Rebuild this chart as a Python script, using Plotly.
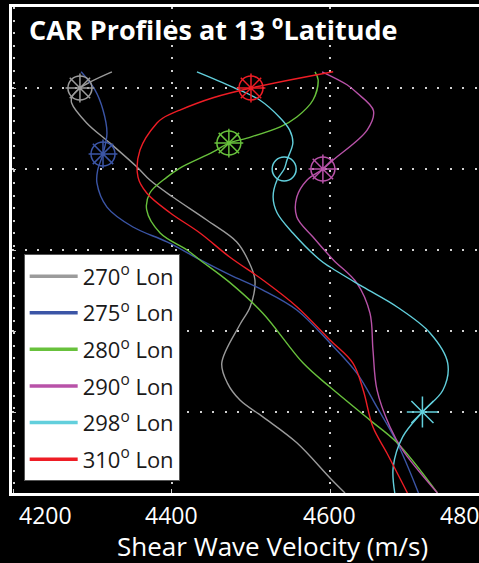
import plotly.graph_objects as go

# Depth samples (km) and shear-wave velocity (m/s) for each longitude profile
DEPTH_270 = [40, 50, 55.6, 59.3, 71.6, 84, 98.8, 106.8, 117.3, 131.5, 145, 156, 168.5, 185, 196, 219.8, 232, 242.6, 253, 269, 290.7, 300]
VEL_270 = [4324, 4283.5, 4273.4, 4273, 4292, 4321.5, 4355.7, 4372, 4401, 4444, 4482, 4496, 4505, 4499, 4486, 4463, 4470, 4486, 4515, 4558, 4600, 4619]

DEPTH_275 = [40, 51.2, 63.6, 77.8, 90.7, 100.6, 108.6, 123.5, 135.8, 145, 156, 165.4, 174.7, 187, 207.4, 226, 247, 269, 300]
VEL_275 = [4285, 4302.5, 4312.7, 4317.7, 4312.7, 4306, 4305, 4317.7, 4350.6, 4393.7, 4435.4, 4473.4, 4515, 4558, 4600, 4634, 4659.5, 4685, 4712]

DEPTH_280 = [40, 45, 57.4, 67.9, 74, 80.9, 84, 89.5, 99.4, 105, 114.8, 125.3, 139.5, 150, 156, 170, 189, 219.8, 234.6, 255, 269, 300]
VEL_280 = [4581, 4585, 4578.5, 4558, 4537, 4495, 4472, 4452, 4410, 4393.7, 4372, 4368, 4385, 4419, 4435, 4473, 4515, 4566, 4600, 4650.6, 4685, 4736]

DEPTH_290 = [40, 48, 53, 64, 76, 94.4, 100, 106.8, 117.3, 129.6, 142, 156, 170.4, 189, 211.7, 236.4, 259.3, 273.5, 300]
VEL_290 = [4590, 4621.5, 4634, 4655, 4647, 4604, 4591, 4571, 4558, 4558, 4578.5, 4604, 4634, 4650.6, 4654.4, 4659.5, 4676, 4692, 4736]

DEPTH_298 = [40, 49.4, 57.4, 68.5, 76, 84, 94.4, 100, 106.8, 117.3, 127, 139.5, 156, 160.5, 172.8, 185.2, 201.2, 219.8, 236.4, 250, 265.4, 284, 300]
VEL_298 = [4431.6, 4477, 4511, 4537, 4549, 4553, 4545.6, 4542, 4533, 4528, 4533, 4553, 4587, 4600, 4641.8, 4685, 4726.6, 4749, 4743, 4717, 4692, 4680, 4682]

DEPTH_310 = [40, 50, 56, 63.6, 68.5, 71.6, 88.3, 105, 114.8, 127, 139.5, 154.3, 168.5, 185, 205.6, 219.8, 236.4, 259.3, 275.3, 300]
VEL_310 = [4604, 4500, 4452, 4410, 4388.6, 4381, 4359.5, 4357, 4368, 4397.5, 4435.4, 4473, 4515, 4558, 4600, 4629, 4642, 4654.4, 4672, 4698]

LABELS = ["270", "275", "280", "290", "298", "310"]
COLORS = ["#9b9b9b", "#3b55a6", "#68c13c", "#b852a8", "#62cfdc", "#ee1d25"]

# Highlighted points on the profiles
WHEEL_VEL = [4283.5, 4312.7, 4472, 4591, 4500]
WHEEL_DEPTH = [50, 90.7, 84, 100, 50]
WHEEL_COLOR = ["#9b9b9b", "#3b55a6", "#68c13c", "#b852a8", "#ee1d25"]
RING_VEL = [4542]
RING_DEPTH = [100]
STAR_VEL = [4717]
STAR_DEPTH = [250]

XTICKS = [4200, 4400, 4600, 4800]
XTICK_SHIFT = [3, 0, 0, -22]   # end labels are nudged inwards
YGRID = [0, 50, 100, 150, 200, 250, 300]
X_RANGE = [4197.5, 4788.6]

FONT = "Open Sans"

profiles = [
    (VEL_270, DEPTH_270), (VEL_275, DEPTH_275), (VEL_280, DEPTH_280),
    (VEL_290, DEPTH_290), (VEL_298, DEPTH_298), (VEL_310, DEPTH_310),
]

fig = go.Figure()

for (vel, dep), col in zip(profiles, COLORS):
    fig.add_trace(go.Scatter(
        x=vel, y=dep, mode="lines", showlegend=False, hoverinfo="skip",
        line=dict(color=col, width=1.4, shape="spline", smoothing=1.0),
    ))

# wheel markers: open circle with eight spokes
for sym in ["circle-open", "asterisk-open"]:
    fig.add_trace(go.Scatter(
        x=WHEEL_VEL, y=WHEEL_DEPTH, mode="markers", showlegend=False, hoverinfo="skip",
        marker=dict(symbol=sym, size=24, color=WHEEL_COLOR,
                    line=dict(color=WHEEL_COLOR, width=1.5)),
    ))
fig.add_trace(go.Scatter(
    x=RING_VEL, y=RING_DEPTH, mode="markers", showlegend=False, hoverinfo="skip",
    marker=dict(symbol="circle-open", size=24, color=COLORS[4],
                line=dict(color=COLORS[4], width=1.5)),
))
fig.add_trace(go.Scatter(
    x=STAR_VEL, y=STAR_DEPTH, mode="markers", showlegend=False, hoverinfo="skip",
    marker=dict(symbol="asterisk-open", size=26, color=COLORS[4],
                line=dict(color=COLORS[4], width=1.5)),
))

# legend entries with thicker sample lines
for lab, col in zip(LABELS, COLORS):
    fig.add_trace(go.Scatter(
        x=[None], y=[None], mode="lines", name=f"{lab}<sup>o</sup> Lon",
        legendgroup=lab, line=dict(color=col, width=3.5),
    ))


def to_paper(v):
    return (v - X_RANGE[0]) / (X_RANGE[1] - X_RANGE[0])


annotations = []
for i, (t, dx) in enumerate(zip(XTICKS, XTICK_SHIFT)):
    annotations.append(dict(
        x=to_paper(t), xref="paper", y=0, yref="paper", yshift=-22,
        text=str(t), showarrow=False,
        xanchor="left" if i == 0 else "center", xshift=dx,
        yanchor="middle", font=dict(family=FONT, size=23, color="white"),
    ))
annotations.append(dict(
    x=0.557, xref="paper", y=0, yref="paper", yshift=-53,
    text="Shear Wave Velocity (m/s)", showarrow=False,
    xanchor="center", yanchor="middle",
    font=dict(family=FONT, size=26, color="white"),
))
annotations.append(dict(
    x=0.032, xref="paper", y=0.955, yref="paper",
    text="<b>CAR Profiles at 13 <sup>o</sup>Latitude</b>", showarrow=False,
    xanchor="left", yanchor="middle",
    font=dict(family=FONT, size=27, color="white"),
))

fig.update_layout(
    width=479, height=563,
    margin=dict(l=12, r=0, t=7, b=70),
    paper_bgcolor="black", plot_bgcolor="black",
    font=dict(family=FONT, color="white"),
    showlegend=True,
    legend=dict(
        x=0.025, y=0.024, xanchor="left", yanchor="bottom",
        bgcolor="white", bordercolor="#555555", borderwidth=1,
        tracegroupgap=5, itemwidth=48,
        font=dict(family=FONT, size=22, color="#1a1a1a"),
    ),
    annotations=annotations,
)
fig.update_xaxes(
    range=X_RANGE, tickvals=XTICKS, showticklabels=False,
    ticks="inside", ticklen=4, tickcolor="#cccccc",
    showgrid=True, gridcolor="#d0d0d0", gridwidth=1.5, griddash="2px,10.5px",
    showline=True, linecolor="white", linewidth=2.5, mirror=True,
    zeroline=False,
)
fig.update_yaxes(
    range=[300, 0], tickvals=YGRID, showticklabels=False,
    ticks="inside", ticklen=4, tickcolor="#cccccc",
    showgrid=True, gridcolor="#d0d0d0", gridwidth=1.5, griddash="2px,10.5px",
    showline=True, linecolor="white", linewidth=2.5, mirror=False,
    zeroline=False,
)

fig.write_html("out.html")
